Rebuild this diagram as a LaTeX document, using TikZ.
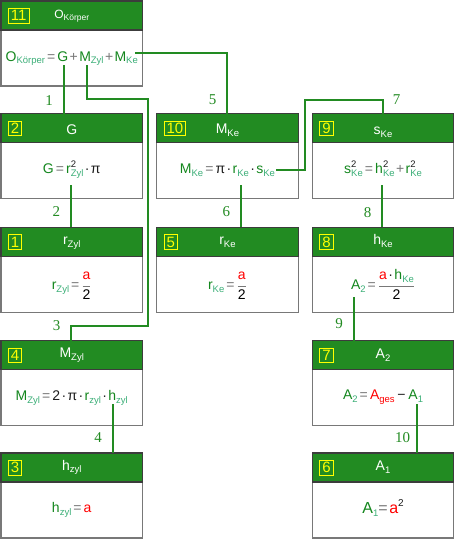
\documentclass[tikz,border=0pt]{standalone}
\usepackage{fontspec}
\setmainfont{Liberation Sans}
\newfontfamily\numfont{Liberation Serif}
\usetikzlibrary{calc}
\definecolor{hdr}{RGB}{34,139,34}
\definecolor{varc}{RGB}{20,135,30}
\definecolor{subc}{RGB}{60,175,120}
\definecolor{opc}{RGB}{120,120,120}
\definecolor{dotc}{RGB}{30,30,30}
\definecolor{redc}{RGB}{255,0,0}
\definecolor{ylw}{RGB}{255,255,0}
\definecolor{frm}{RGB}{120,120,120}
\definecolor{frmd}{RGB}{60,60,60}
\newcommand\V[1]{\textcolor{varc}{#1}}
\newcommand\Sbc[2]{\raisebox{-0.4ex}{\fontsize{9.5}{10}\selectfont\textcolor{#1}{#2}}}
\newcommand\Sb[1]{\Sbc{subc}{#1}}
\newcommand\Hs[1]{\raisebox{-0.4ex}{\fontsize{9.5}{10}\selectfont #1}}
\newcommand\SpSb[2]{\makebox[0pt][l]{\raisebox{0.8ex}{\fontsize{9.5}{10}\selectfont\textcolor{dotc}{#1}}}\raisebox{-0.4ex}{\fontsize{9.5}{10}\selectfont\textcolor{subc}{#2}}}
\newcommand\Eq{\hspace{0.15em}\textcolor{opc}{=}\hspace{0.15em}}
\newcommand\Pl{\hspace{0.1em}\textcolor{opc}{+}\hspace{0.1em}}
\newcommand\Dt{\hspace{0.1em}\textcolor{dotc}{·}\hspace{0.1em}}
\newcommand\Ra{\textcolor{redc}{a}}
\newcommand\Pii{\textcolor{dotc}{π}}
\newcommand\Fr[2]{$\displaystyle\color{opc}\frac{\mbox{#1}}{\mbox{\textcolor{black}{#2}}}$}
% name, x, y, number, title, formula, formula baseline, title baseline
\newcommand\calcbox[8]{%
  \node[bbox] (#1b) at (#2,#3+29) {};
  \node[hbox] (#1h) at (#2,#3) {};
  \node[nbox] (#1n) at (#2+7,#3+14.8) {#4};
  \node[htext] (#1t) at (#2+70.75,#3+#8) {#5};
  \node[ftext] (#1f) at (#2+70.75,#3+#7) {#6};
}
\begin{document}
\begin{tikzpicture}[x=1pt,y=-1pt,
  hbox/.style={anchor=north west,minimum width=141.5pt,minimum height=29pt,inner sep=0pt,outer sep=0pt,fill=hdr,draw=frmd,line width=1.2pt},
  bbox/.style={anchor=north west,minimum width=141.5pt,minimum height=56pt,inner sep=0pt,outer sep=0pt,fill=white,draw=frm,line width=1.2pt},
  nbox/.style={anchor=west,draw=ylw,text=ylw,line width=0.9pt,inner xsep=2.5pt,inner ysep=2pt,font=\fontsize{15}{15}\selectfont},
  htext/.style={anchor=base,text=white,inner sep=0pt,font=\fontsize{14}{14}\selectfont},
  ftext/.style={anchor=base,inner sep=0pt,font=\fontsize{14}{14}\selectfont},
  conn/.style={draw=hdr,line width=2pt},
  lbl/.style={text=hdr,inner sep=0pt,font=\numfont\fontsize{15}{15}\selectfont}]
\useasboundingbox[fill=white] (0,0) rectangle (455,539);

\calcbox{k11}{1}{1}{11}{{\fontsize{12}{12}\selectfont O\raisebox{-0.4ex}{\fontsize{8.5}{9}\selectfont Körper}}}{\V{O}\Sb{Körper}\Eq\V{G}\Pl\V{M}\Sb{Zyl}\Pl\V{M}\Sb{Ke}}{60}{17}
\calcbox{k2}{1}{113.8}{2}{G}{\V{G}\Eq\V{r}\SpSb{2}{Zyl}\Dt\Pii}{60}{20.5}
\calcbox{k10}{156.7}{113.8}{10}{M\Hs{Ke}}{\V{M}\Sb{Ke}\Eq\Pii\Dt\V{r}\Sb{Ke}\Dt\V{s}\Sb{Ke}}{60}{19.5}
\calcbox{k9}{312.3}{113.8}{9}{s\Hs{Ke}}{\V{s}\SpSb{2}{Ke}\Eq\V{h}\SpSb{2}{Ke}\Pl\V{r}\SpSb{2}{Ke}}{60}{21}
\calcbox{k1}{1}{227.3}{1}{r\Hs{Zyl}}{\V{r}\Sb{Zyl}\Eq\Fr{\Ra}{2}}{62}{17.5}
\calcbox{k5}{156.7}{227.3}{5}{r\Hs{Ke}}{\V{r}\Sb{Ke}\Eq\Fr{\Ra}{2}}{62}{17.5}
\calcbox{k8}{312.3}{227.3}{8}{h\Hs{Ke}}{\V{A}\Sb{2}\Eq\Fr{\Ra\Dt\V{h}\Sb{Ke}}{2}}{62}{17.5}
\calcbox{k4}{1}{340.7}{4}{M\Hs{Zyl}}{\V{M}\Sb{Zyl}\Eq\textcolor{dotc}{2}\Dt\Pii\Dt\V{r}\Sb{zyl}\Dt\V{h}\Sb{zyl}}{59.5}{16.5}
\calcbox{k7}{312.3}{340.7}{7}{A\Hs{2}}{\V{A}\Sb{2}\Eq\textcolor{redc}{A}\Sbc{redc}{ges}\hspace{0.2em}\textcolor{dotc}{−}\hspace{0.2em}\V{A}\Sb{1}}{59}{17.5}
\calcbox{k3}{1}{453}{3}{h\Hs{zyl}}{\V{h}\Sb{zyl}\Eq\Ra}{59.5}{17}
\calcbox{k6}{312.3}{453}{6}{A\Hs{1}}{{\fontsize{16}{16}\selectfont\V{A}\Sbc{subc}{1}\textcolor{opc}{=}\hspace{0.1em}\Ra\raisebox{0.8ex}{\fontsize{10}{10}\selectfont\textcolor{dotc}{2}}}}{60.5}{17.5}

% connector start points and bends
\coordinate (s1) at (64,65);
\coordinate (s3) at (87,65);
\coordinate (v3) at (148,99);
\coordinate (w3) at (71,326);
\coordinate (s5) at (135,53);
\coordinate (e5) at (227,53);
\coordinate (s2) at (71,185);
\coordinate (s6) at (241,185);
\coordinate (s7) at (276,170);
\coordinate (v7) at (305,100);
\coordinate (e7) at (383,100);
\coordinate (s8) at (382,185);
\coordinate (s9) at (354,297);
\coordinate (s4) at (113,404);
\coordinate (s10) at (417,404);

\draw[conn] (s1) -- (s1 |- k2h.north);
\draw[conn] (s3) |- (v3) |- (w3) -- (w3 |- k4h.north);
\draw[conn] (s5) -- (e5) -- (e5 |- k10h.north);
\draw[conn] (s2) -- (s2 |- k1h.north);
\draw[conn] (s6) -- (s6 |- k5h.north);
\draw[conn] (s7) -| (v7) -- (e7) -- (e7 |- k9h.north);
\draw[conn] (s8) -- (s8 |- k8h.north);
\draw[conn] (s9) -- (s9 |- k7h.north);
\draw[conn] (s4) -- (s4 |- k3h.north);
\draw[conn] (s10) -- (s10 |- k6h.north);

\node[lbl] (l1) at (49,101) {1};
\node[lbl] (l2) at (56.3,212) {2};
\node[lbl] (l3) at (56.7,325.3) {3};
\node[lbl] (l4) at (98,438) {4};
\node[lbl] (l5) at (212.5,100) {5};
\node[lbl] (l6) at (226.3,212) {6};
\node[lbl] (l7) at (396.5,100) {7};
\node[lbl] (l8) at (367.7,213) {8};
\node[lbl] (l9) at (339,324) {9};
\node[lbl] (l10) at (402.5,438) {10};
\end{tikzpicture}
\end{document}
